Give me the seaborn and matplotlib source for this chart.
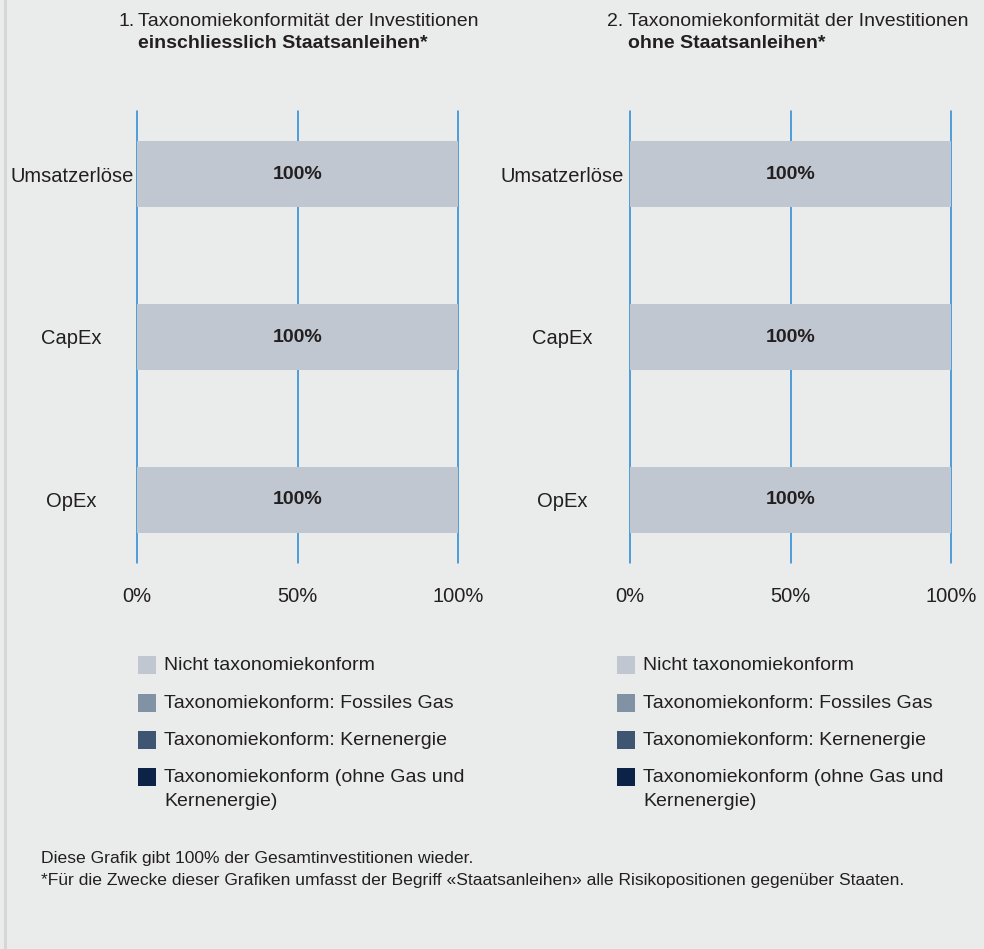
import numpy as np
import pandas as pd
import matplotlib.pyplot as plt
from matplotlib.patches import Rectangle
import seaborn as sns

# data
categories = ['Umsatzerlöse', 'CapEx', 'OpEx']
series = ['Nicht taxonomiekonform',
          'Taxonomiekonform: Fossiles Gas',
          'Taxonomiekonform: Kernenergie',
          'Taxonomiekonform (ohne Gas und\nKernenergie)']
colors = ['#c0c7d0', '#8292a5', '#3f5673', '#0c2347']

incl_nicht = [100, 100, 100]
incl_gas = [0, 0, 0]
incl_kern = [0, 0, 0]
incl_aligned = [0, 0, 0]

excl_nicht = [100, 100, 100]
excl_gas = [0, 0, 0]
excl_kern = [0, 0, 0]
excl_aligned = [0, 0, 0]

xticks = [0, 50, 100]
xticklabels = ['0%', '50%', '100%']

BG = '#eaeceb'
TXT = '#231f20'
GRID = '#2288d6'
W, H = 984, 949

sns.set_style('white')
plt.rcParams['font.family'] = ['Liberation Sans', 'DejaVu Sans']
plt.rcParams['text.color'] = TXT

fig = plt.figure(figsize=(W / 100, H / 100), dpi=100, facecolor=BG)


def draw_panel(ax, nicht, gas, kern, aligned):
    # stacked left to right: aligned, kern, gas, nicht -> draw cumulative totals largest first
    stack = np.array([aligned, kern, gas, nicht], dtype=float)
    cum = np.cumsum(stack, axis=0)
    color_order = [colors[3], colors[2], colors[1], colors[0]]
    for i in reversed(range(4)):
        df = pd.DataFrame({'Kategorie': categories, 'Wert': cum[i]})
        sns.barplot(data=df, x='Wert', y='Kategorie', orient='h', color=color_order[i],
                    saturation=1, width=0.4, linewidth=0, ax=ax)
    ax.bar_label(ax.containers[0], labels=[f'{v:g}%' for v in nicht], label_type='center',
                 fontsize=14, fontweight='bold', color=TXT)
    ax.set_xlim(0, 100)
    ax.set_ylim(2.387, -0.387)
    ax.set_xticks(xticks)
    ax.set_xticklabels(xticklabels)
    ax.set_xlabel('')
    ax.set_ylabel('')
    ax.set_facecolor('none')
    for s in ax.spines.values():
        s.set_visible(False)
    ax.set_axisbelow(True)
    ax.grid(axis='x', color=GRID, linewidth=1.1)
    ax.grid(axis='y', visible=False)
    for gl in ax.get_xgridlines():
        gl.set_clip_on(False)
    ax.tick_params(axis='x', length=0, pad=17, labelsize=14.5, colors=TXT)
    ax.tick_params(axis='y', length=0, pad=47, labelsize=14.5, colors=TXT)
    for lab in ax.get_yticklabels():
        lab.set_horizontalalignment('center')


ax1 = fig.add_axes([137 / W, 1 - 563 / H, 321 / W, 452 / H])
draw_panel(ax1, incl_nicht, incl_gas, incl_kern, incl_aligned)
ax2 = fig.add_axes([630 / W, 1 - 563 / H, 321 / W, 452 / H])
draw_panel(ax2, excl_nicht, excl_gas, excl_kern, excl_aligned)
ax2.tick_params(axis='y', pad=49)

# titles
fig.text(118 / W, 1 - 22 / H, '1.', fontsize=14, va='center', ha='left')
fig.text(138 / W, 1 - 22 / H, 'Taxonomiekonformität der Investitionen', fontsize=14, va='center')
fig.text(138 / W, 1 - 44 / H, 'einschliesslich Staatsanleihen*', fontsize=14,
         fontweight='bold', va='center')
fig.text(607 / W, 1 - 22 / H, '2.', fontsize=14, va='center', ha='left')
fig.text(628 / W, 1 - 22 / H, 'Taxonomiekonformität der Investitionen', fontsize=14, va='center')
fig.text(628 / W, 1 - 44 / H, 'ohne Staatsanleihen*', fontsize=14,
         fontweight='bold', va='center')

# legends (square swatches, first text line aligned with swatch)
row_y = [665, 703, 740, 777]
for x0 in (138, 617):
    for label, c, yc in zip(series, colors, row_y):
        fig.patches.append(Rectangle((x0 / W, 1 - (yc + 9) / H), 18 / W, 18 / H,
                                     transform=fig.transFigure, facecolor=c, edgecolor='none'))
        fig.text((x0 + 26) / W, 1 - (yc - 8) / H, label, fontsize=14, va='top', ha='left',
                 linespacing=1.55)

# footnote
fig.text(41 / W, 1 - 858 / H, 'Diese Grafik gibt 100% der Gesamtinvestitionen wieder.',
         fontsize=12.6, va='center')
fig.text(41 / W, 1 - 880 / H,
         '*Für die Zwecke dieser Grafiken umfasst der Begriff «Staatsanleihen» alle Risikopositionen gegenüber Staaten.',
         fontsize=12.6, va='center')

# left frame strip
fig.patches.append(Rectangle((4 / W, 0), 3 / W, 1, transform=fig.transFigure,
                             facecolor='#d5d7d6', edgecolor='none'))

fig.savefig('out.png', dpi=100, facecolor=BG)
